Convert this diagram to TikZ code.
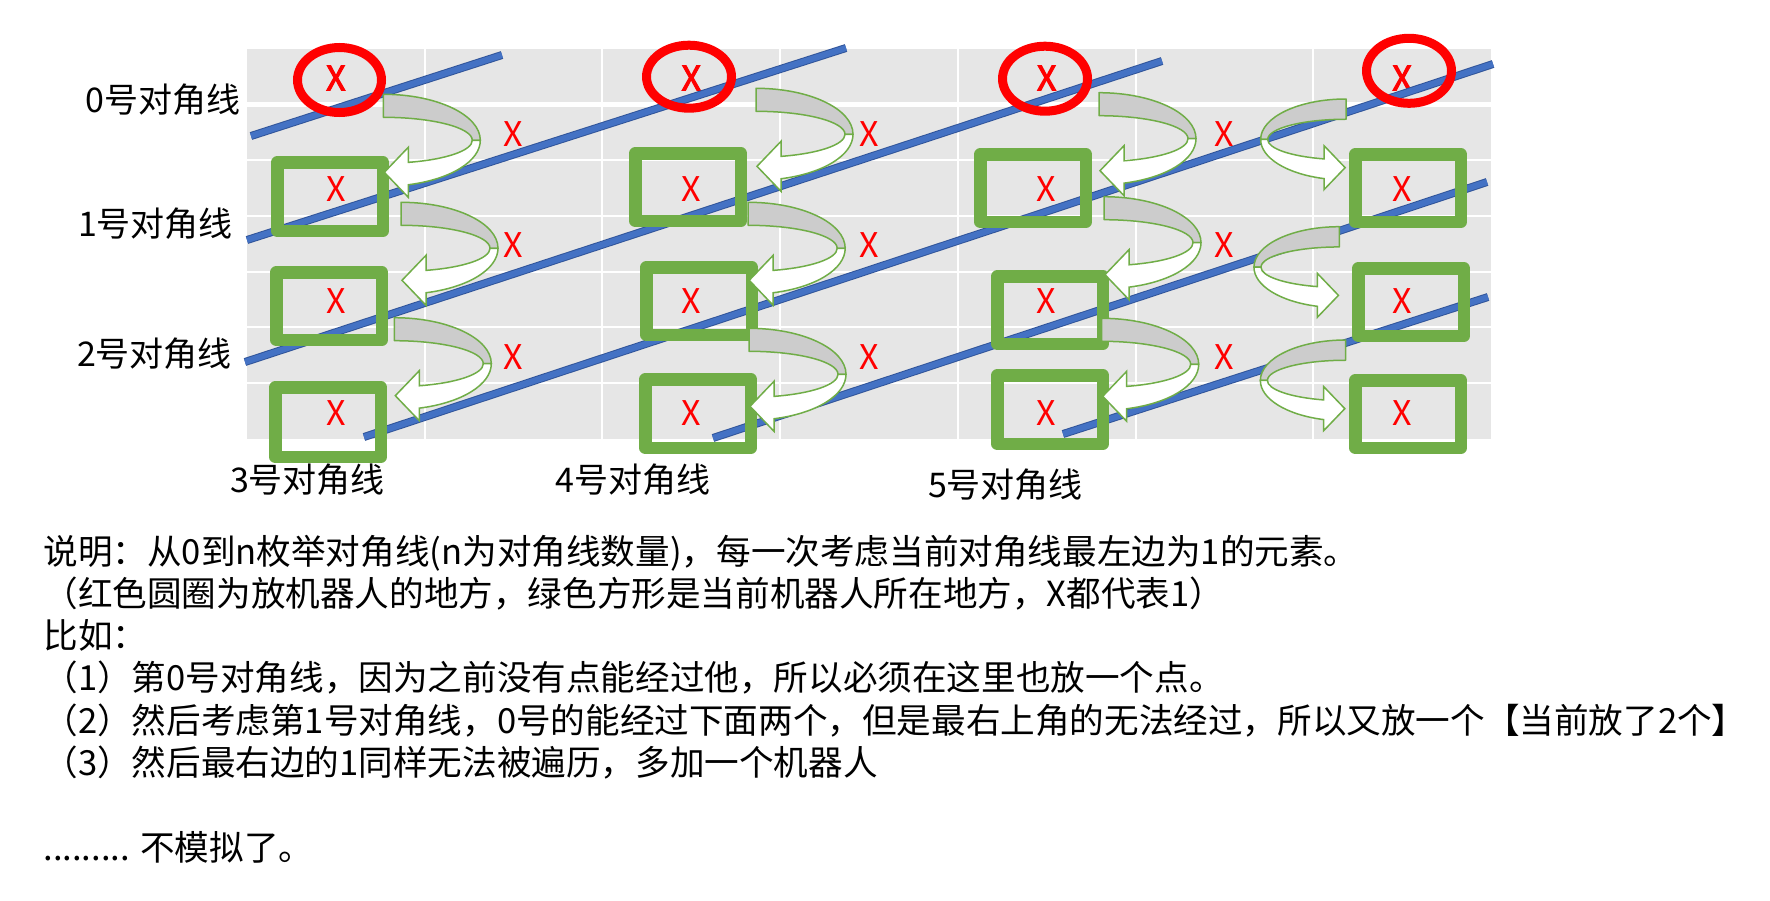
\documentclass[tikz,border=0pt]{standalone}
\usepackage{fontspec}
\setmainfont{Noto Sans CJK SC}
\newfontfamily\xboldfont[FakeBold=3]{Noto Sans CJK SC}
\definecolor{bggray}{HTML}{E6E6E6}
\definecolor{bandgray}{HTML}{CCCCCC}
\definecolor{boxgreen}{HTML}{70AD47}
\definecolor{lineblue}{HTML}{4472C4}
\definecolor{lineedge}{HTML}{31559A}
\definecolor{xred}{HTML}{FF0000}
\tikzset{
  gridline/.style={draw=white, line width=1pt},
  blueedge/.style={draw=lineedge, line width=4pt},
  bluecore/.style={draw=lineblue, line width=3pt},
  greenbox/.style={draw=boxgreen, line width=6.25pt, line join=round},
  redring/.style={draw=xred, line width=4.5pt},
  xtxt/.style={text=xred, inner sep=0pt, font=\fontsize{17}{20}\selectfont},
  xbold/.style={text=xred, inner sep=0pt, font=\xboldfont\fontsize{17}{20}\selectfont},
  arrowgray/.style={fill=bandgray, draw=boxgreen, line width=0.75pt, line join=round},
  arrowwhite/.style={fill=white, draw=boxgreen, line width=0.75pt, line join=miter},
  diaglabel/.style={inner sep=0pt, font=\fontsize{17}{20}\selectfont},
  bodytxt/.style={inner sep=0pt, anchor=base west, font=\fontsize{17.3}{20}\selectfont}
}
\newcommand\uturnarrow[4]{%
  \begin{scope}[shift={(#1,#2)},xscale=#3,scale=#4]
    \draw[arrowgray] (0,0) arc[start angle=-90,end angle=0,x radius=97,y radius=46]
      -- (89,46) arc[start angle=0,end angle=-90,x radius=89,y radius=23] -- cycle;
    \draw[arrowwhite] (97,46) arc[start angle=0,end angle=75.06,x radius=97,y radius=46]
      -- (25,103) -- (1,78) -- (25,53) -- (25,68.07)
      arc[start angle=73.69,end angle=0,x radius=89,y radius=23] -- cycle;
  \end{scope}}
\begin{document}
\begin{tikzpicture}[x=0.5pt,y=-0.5pt]
\useasboundingbox (0,0) rectangle (1770,900);
% chart background and grid
\fill[bggray] (247,48.6) rectangle (1491,439);
\foreach \j in {1,...,6} \draw[gridline] ({247+177.7*\j},48.6) -- ({247+177.7*\j},439);
\foreach \i in {2,...,6} \draw[gridline] (247,{48.6+55.77*\i}) -- (1491,{48.6+55.77*\i});
\draw[gridline, line width=2.8pt] (247,104.4) -- (1491,104.4);
% cell values
\foreach \j in {0,2,4,6}{
  \node[xbold] (xc\j) at ({247+177.7*(\j+0.5)},78) {X};
  \foreach \i in {2,4,6}
    \node[xtxt] (x\j\i) at ({247+177.7*(\j+0.5)},{48.6+55.77*(\i+0.5)+1.5}) {X};
}
\foreach \j in {1,3,5}
  \foreach \i in {1,3,5}
    \node[xtxt] (x\j\i) at ({247+177.7*(\j+0.5)},{48.6+55.77*(\i+0.5)+1.5}) {X};
% diagonals
\foreach \a/\b in {{(251,136)}/{(502,55)}, {(247,240)}/{(846,48)}, {(245,362)}/{(1162,61)},
                   {(364,437)}/{(1493,64)}, {(713,438)}/{(1487,182)}, {(1063,434)}/{(1488,297)}}{
  \draw[blueedge] \a -- \b;
  \draw[bluecore] \a -- \b;
}
% green boxes
\draw[greenbox] (277.25,162.25) rectangle (382.75,230.75);
\draw[greenbox] (276.25,272.25) rectangle (381.75,339.75);
\draw[greenbox] (275.25,387.25) rectangle (380.75,456.75);
\draw[greenbox] (635.25,153.25) rectangle (740.75,220.75);
\draw[greenbox] (646.25,267.25) rectangle (751.75,334.75);
\draw[greenbox] (645.25,379.25) rectangle (750.75,447.75);
\draw[greenbox] (980.25,154.25) rectangle (1085.75,221.75);
\draw[greenbox] (997.25,276.25) rectangle (1102.75,343.75);
\draw[greenbox] (997.25,375.25) rectangle (1102.75,443.75);
\draw[greenbox] (1355.25,154.25) rectangle (1460.75,221.75);
\draw[greenbox] (1358.25,268.25) rectangle (1463.75,335.75);
\draw[greenbox] (1355.25,380.25) rectangle (1460.75,447.75);
% curved arrows
\uturnarrow{383.3}{94.3}{1}{1}
\uturnarrow{401}{202.3}{1}{1}
\uturnarrow{394.3}{317.7}{1}{1}
\uturnarrow{756}{88.3}{1}{1}
\uturnarrow{748.2}{202.3}{1}{1}
\uturnarrow{749}{328.3}{1}{1}
\uturnarrow{1099}{92.7}{1}{1}
\uturnarrow{1104}{196.7}{1}{1}
\uturnarrow{1101.7}{318.3}{1}{1}
\uturnarrow{1346}{99}{-1}{0.88}
\uturnarrow{1339.3}{226.7}{-1}{0.88}
\uturnarrow{1345.7}{340}{-1}{0.88}
% red circles
\draw[redring] (339.5,80) ellipse [x radius=42, y radius=32.5];
\draw[redring] (689,76.7) ellipse [x radius=42.5, y radius=31.5];
\draw[redring] (1045,78.7) ellipse [x radius=42.5, y radius=32.5];
\draw[redring] (1409,70.8) ellipse [x radius=42.5, y radius=32.5];
% diagonal labels
\node[diaglabel] (d0) at (163,100) {0号对角线};
\node[diaglabel] (d1) at (155.5,224) {1号对角线};
\node[diaglabel] (d2) at (154.5,354) {2号对角线};
\node[diaglabel] (d3) at (307.5,480) {3号对角线};
\node[diaglabel] (d4) at (633,480) {4号对角线};
\node[diaglabel] (d5) at (1005.5,484.5) {5号对角线};
% explanation
\node[bodytxt] (t1) at (43,564) {说明：从0到n枚举对角线(n为对角线数量)，每一次考虑当前对角线最左边为1的元素。};
\node[bodytxt] (t2) at (43,606.3) {（红色圆圈为放机器人的地方，绿色方形是当前机器人所在地方，X都代表1）};
\node[bodytxt] (t3) at (43,648.6) {比如：};
\node[bodytxt] (t4) at (43,690.9) {（1）第0号对角线，因为之前没有点能经过他，所以必须在这里也放一个点。};
\node[bodytxt] (t5) at (43,733.2) {（2）然后考虑第1号对角线，0号的能经过下面两个，但是最右上角的无法经过，所以又放一个【当前放了2个】};
\node[bodytxt] (t6) at (43,775.5) {（3）然后最右边的1同样无法被遍历，多加一个机器人};
\node[bodytxt] (t8) at (43,860.1) {......... 不模拟了。};
\end{tikzpicture}
\end{document}
